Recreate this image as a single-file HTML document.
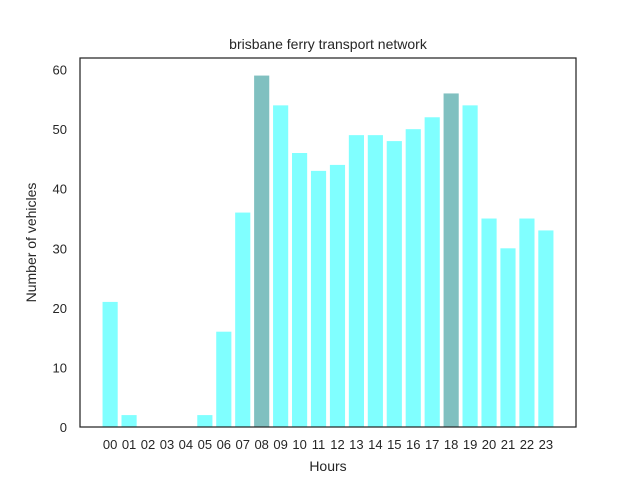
<!DOCTYPE html>
<html><head><meta charset="utf-8"><style>
body{margin:0;background:#fff;font-family:"Liberation Sans","DejaVu Sans",sans-serif;}
svg text{font-family:"Liberation Sans","DejaVu Sans",sans-serif;fill:#262626;}
</style></head><body>
<svg id="chart" width="640" height="480" xmlns="http://www.w3.org/2000/svg">
<rect width="640" height="480" fill="#fff"/>
<text x="328" y="49" font-size="14" text-anchor="middle">brisbane ferry transport network</text>
<g id="bars"></g>
<g id="xticks"></g>
<g id="yticks"></g>
<rect x="80" y="58" width="496" height="369" fill="none" stroke="#262626" stroke-width="1.25"/>
<text x="328" y="471" font-size="14" text-anchor="middle">Hours</text>
<text transform="translate(36,242.5) rotate(-90)" font-size="14" text-anchor="middle">Number of vehicles</text>
</svg>
<script>
const categories=["00","01","02","03","04","05","06","07","08","09","10","11","12","13","14","15","16","17","18","19","20","21","22","23"];
const values=[21,2,0,0,0,2,16,36,59,54,46,43,44,49,49,48,50,52,56,54,35,30,35,33];
const highlighted=["08","18"];
const yTicks=[0,10,20,30,40,50,60];
const L=80,R=576,T=58,B=427,xmin=-1.59,xmax=24.59,ymax=61.95;
const xs=i=>L+(i-xmin)/(xmax-xmin)*(R-L);
const ys=v=>B-v/ymax*(B-T);
const NS="http://www.w3.org/2000/svg";
const bw=0.8*(R-L)/(xmax-xmin);
const gb=document.getElementById('bars'),gx=document.getElementById('xticks'),gy=document.getElementById('yticks');
categories.forEach((c,i)=>{
  const r=document.createElementNS(NS,'rect');
  
  
  r.setAttribute('x',xs(i)-bw/2);r.setAttribute('width',bw);
  r.setAttribute('y',ys(values[i]));r.setAttribute('height',B-ys(values[i]));
  r.setAttribute('fill',highlighted.includes(c)?'#80c0c0':'#80ffff');
  gb.appendChild(r);
  const t=document.createElementNS(NS,'text');
  
  
  t.setAttribute('x',xs(i));t.setAttribute('y',449);t.setAttribute('font-size','13');t.setAttribute('text-anchor','middle');
  t.textContent=c;gx.appendChild(t);
});
yTicks.forEach(v=>{
  const t=document.createElementNS(NS,'text');
  
  
  t.setAttribute('x',67);t.setAttribute('y',ys(v)+5);t.setAttribute('font-size','13');t.setAttribute('text-anchor','end');
  t.textContent=v;gy.appendChild(t);
});
</script>
</body></html>
